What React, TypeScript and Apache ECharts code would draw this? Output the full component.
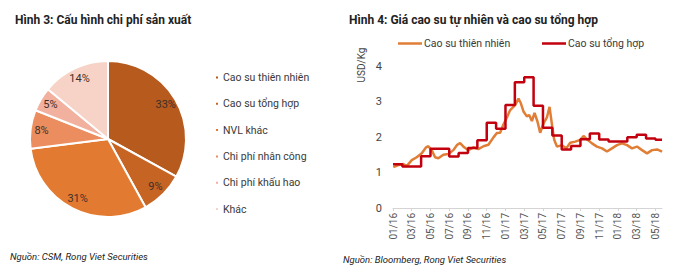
import React, { useEffect, useRef } from "react";
import * as echarts from "echarts";

const FONT = "Roboto, 'Noto Sans', sans-serif";

// Left chart: cost structure
const pieNames = ["Cao su thiên nhiên", "Cao su tổng hợp", "NVL khác", "Chi phí nhân công", "Chi phí khấu hao", "Khác"];
const pieValues = [33, 9, 31, 8, 5, 14];
const pieColors = ["#B65A1E", "#C66423", "#E27B31", "#EC8D5F", "#F2B19E", "#F7D2C6"];

// Right chart: rubber prices (x = months since 01/2016)
const synMonths = [0, 1, 2, 3, 4, 5, 6, 7, 8, 9, 10, 11, 12, 13, 14, 15, 16, 17, 18, 19, 20, 21, 22, 23, 24, 25, 26, 27, 28, 28.7];
const synValues = [1.23, 1.17, 1.17, 1.46, 1.67, 1.67, 1.45, 1.55, 1.69, 1.91, 2.4, 2.23, 2.9, 3.54, 3.68, 2.88, 2.26, 2.04, 1.65, 1.75, 1.94, 2.1, 1.93, 1.87, 1.87, 1.99, 2.06, 1.96, 1.92, 1.92];

const natMonths = [0.03, 0.57, 1.1, 1.46, 2.0, 2.53, 3.07, 3.53, 3.77, 4.13, 4.49, 4.84, 5.37, 5.91, 6.44, 6.81, 7.16, 7.59, 8.04, 8.58, 9.11, 9.65, 10.18, 10.72, 11.08, 11.43, 11.78, 12.15, 12.5, 13.03, 13.39, 13.64, 13.92, 14.28, 14.53, 14.82, 15.1, 15.42, 15.7, 16.06, 16.42, 16.7, 16.96, 17.2, 17.49, 18.02, 18.48, 18.91, 19.44, 19.98, 20.33, 20.76, 21.23, 21.76, 22.3, 22.83, 23.36, 23.9, 24.43, 24.97, 25.5, 26.03, 26.57, 27.1, 27.64, 28.17, 28.71];
const natValues = [1.15, 1.21, 1.24, 1.18, 1.35, 1.43, 1.54, 1.71, 1.74, 1.63, 1.43, 1.4, 1.5, 1.52, 1.63, 1.77, 1.83, 1.71, 1.63, 1.71, 1.66, 1.74, 1.78, 1.99, 2.11, 2.12, 2.35, 2.55, 2.76, 2.9, 3.08, 2.95, 2.72, 2.58, 2.62, 2.45, 2.68, 2.43, 2.12, 2.38, 2.55, 2.85, 2.35, 1.92, 1.73, 1.77, 1.68, 1.84, 1.87, 1.92, 2.03, 1.92, 1.82, 1.73, 1.68, 1.59, 1.68, 1.77, 1.82, 1.77, 1.68, 1.73, 1.63, 1.54, 1.63, 1.65, 1.59];

const yTicks = [0, 1, 2, 3, 4];

function monthLabel(v: number): string {
  if (Math.abs(v - Math.round(v)) > 1e-6) return "";
  const m = Math.round(v);
  const mm = (m % 12) + 1;
  const yy = 16 + Math.floor(m / 12);
  return (mm < 10 ? "0" + mm : "" + mm) + "/" + yy;
}

export default function App() {
  const leftRef = useRef<HTMLDivElement>(null);
  const rightRef = useRef<HTMLDivElement>(null);

  useEffect(() => {
    document.body.style.margin = "0";
    const left = echarts.init(leftRef.current!, undefined, { renderer: "svg" });
    const right = echarts.init(rightRef.current!, undefined, { renderer: "svg" });

    const pieData = pieNames.map((n, i) => ({ name: n, value: pieValues[i], itemStyle: { color: pieColors[i] } }));

    left.setOption({
      animation: false,
      textStyle: { fontFamily: FONT },
      title: {
        text: "Hình 3: Cấu hình chi phí sản xuất",
        left: 10,
        top: 9,
        textStyle: { fontSize: 12, fontWeight: "bold", color: "#222", fontFamily: FONT },
      },
      legend: {
        orient: "vertical",
        left: 209,
        top: 67,
        icon: "rect",
        itemWidth: 4,
        itemHeight: 4,
        itemGap: 15.3,
        selectedMode: false,
        data: pieNames,
        textStyle: { fontSize: 10.5, color: "#3a3a3a", fontFamily: FONT, padding: [0, 0, 0, -1] },
      },
      series: [
        {
          type: "pie",
          center: [108, 139],
          radius: [0, 78],
          startAngle: 90,
          clockwise: true,
          silent: true,
          data: pieData,
          itemStyle: { borderColor: "#ffffff", borderWidth: 2 },
          label: { show: false },
          labelLine: { show: false },
          emphasis: { disabled: true },
        },
        {
          type: "pie",
          center: [108, 139],
          radius: [50, 78],
          startAngle: 90,
          clockwise: true,
          silent: true,
          data: pieData.map((d) => ({ name: d.name, value: d.value })),
          itemStyle: { color: "rgba(0,0,0,0)", borderWidth: 0 },
          label: {
            show: true,
            position: "inside",
            formatter: "{c}%",
            fontSize: 11,
            color: "#3d3029",
            fontFamily: FONT,
          },
          labelLine: { show: false },
          emphasis: { disabled: true },
        },
      ],
      graphic: [
        {
          type: "text",
          left: 10,
          top: 251,
          style: {
            text: "Nguồn: CSM, Rong Viet Securities",
            fontSize: 9.5,
            fontStyle: "italic",
            fill: "#222",
            fontFamily: FONT,
          },
        },
      ],
    });

    const legendBase = {
      top: 33,
      icon: "rect",
      itemWidth: 24,
      itemHeight: 2.5,
      selectedMode: false,
      textStyle: { fontSize: 10.5, color: "#3a3a3a", fontFamily: FONT, padding: [0, 0, 0, -3] },
    };

    right.setOption({
      animation: false,
      textStyle: { fontFamily: FONT },
      title: {
        text: "Hình 4: Giá cao su tự nhiên và cao su tổng hợp",
        left: 4,
        top: 9,
        textStyle: { fontSize: 12, fontWeight: "bold", color: "#222", fontFamily: FONT },
      },
      legend: [
        { ...legendBase, left: 53, data: ["Cao su thiên nhiên"] },
        { ...legendBase, left: 197, data: ["Cao su tổng hợp"] },
      ],
      grid: { left: 53, right: 18, top: 66, bottom: 60, containLabel: false },
      xAxis: {
        type: "value",
        min: 0,
        max: 28.7,
        interval: 2,
        splitLine: { show: false },
        axisLine: { show: true, lineStyle: { color: "#d4d4d4", width: 1 } },
        axisTick: { show: true, length: 3, lineStyle: { color: "#d4d4d4" } },
        axisLabel: {
          rotate: 90,
          margin: 5,
          fontSize: 10,
          color: "#555",
          fontFamily: FONT,
          showMaxLabel: false,
          formatter: (v: number) => monthLabel(v),
        },
      },
      yAxis: {
        type: "value",
        min: yTicks[0],
        max: yTicks[yTicks.length - 1],
        interval: 1,
        splitLine: { show: false },
        axisLine: { show: false },
        axisTick: { show: false },
        axisLabel: { fontSize: 11, color: "#444", margin: 11, fontFamily: FONT },
      },
      series: [
        {
          name: "Cao su thiên nhiên",
          type: "line",
          color: "#E07E36",
          showSymbol: false,
          symbol: "none",
          silent: true,
          lineStyle: { color: "#E07E36", width: 2.5 },
          data: natMonths.map((m, i) => [m, natValues[i]]),
        },
        {
          name: "Cao su tổng hợp",
          type: "line",
          color: "#C2000E",
          step: "end",
          showSymbol: false,
          symbol: "none",
          silent: true,
          lineStyle: { color: "#C2000E", width: 2.5 },
          data: synMonths.map((m, i) => [m, synValues[i]]),
        },
      ],
      graphic: [
        {
          type: "text",
          x: 21,
          y: 65,
          rotation: Math.PI / 2,
          style: {
            text: "USD/Kg",
            fontSize: 10,
            fill: "#444",
            align: "center",
            verticalAlign: "middle",
            fontFamily: FONT,
          },
        },
        {
          type: "text",
          left: 3,
          top: 254,
          style: {
            text: "Nguồn: Bloomberg, Rong Viet Securities",
            fontSize: 9.5,
            fontStyle: "italic",
            fill: "#222",
            fontFamily: FONT,
          },
        },
      ],
    });

    return () => {
      left.dispose();
      right.dispose();
    };
  }, []);

  return (
    <div style={{ position: "relative", width: 680, height: 268, background: "#fff" }}>
      <div ref={leftRef} style={{ position: "absolute", left: 0, top: 0, width: 340, height: 268 }} />
      <div ref={rightRef} style={{ position: "absolute", left: 340, top: 0, width: 340, height: 268 }} />
    </div>
  );
}
